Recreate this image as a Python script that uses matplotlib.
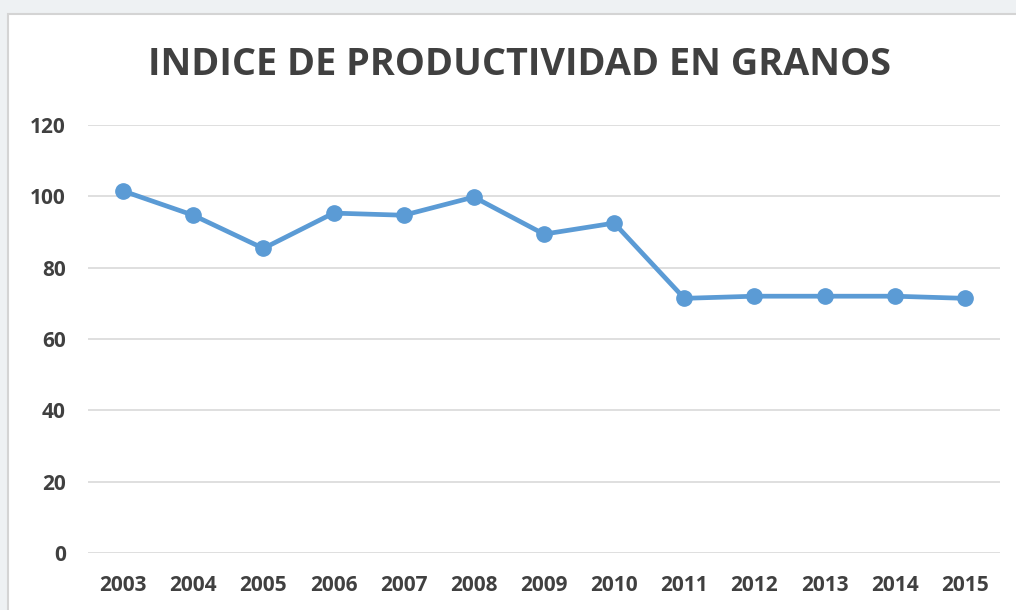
import matplotlib.pyplot as plt
from matplotlib.patches import Rectangle

years = ["2003", "2004", "2005", "2006", "2007", "2008", "2009",
         "2010", "2011", "2012", "2013", "2014", "2015"]
indice = [101.5, 94.7, 85.4, 95.3, 94.7, 99.8, 89.4,
          92.5, 71.4, 72.0, 72.0, 72.0, 71.4]

TXT = "#404040"
BLUE = "#5B9BD5"

plt.rcParams["font.family"] = ["Open Sans", "DejaVu Sans"]

fig = plt.figure(figsize=(10.16, 6.10), dpi=100)
fig.patch.set_facecolor("#eef1f3")
# chart frame (white box with light border, runs off right/bottom edges)
fig.patches.append(Rectangle((8 / 1016, -0.1), 1.1, 1 - 14 / 610 + 0.1,
                             transform=fig.transFigure, facecolor="white",
                             edgecolor="#d4d4d4", linewidth=1.5, zorder=0))

ax = fig.add_axes([88 / 1016, 1 - 553 / 610, 912 / 1016, 428 / 610])
ax.set_zorder(5)
ax.set_facecolor("none")
x = list(range(len(years)))
ax.plot(x, indice, color=BLUE, linewidth=3.4, marker="o", markersize=11,
        solid_capstyle="round", solid_joinstyle="round", zorder=3)

ax.set_xlim(-0.5, len(years) - 0.5)
ax.set_ylim(0, 120)
ax.set_yticks(range(0, 121, 20))
ax.set_xticks(x)
ax.set_xticklabels(years)
ax.grid(axis="y", color="#d9d9d9", linewidth=1.2)
ax.set_axisbelow(True)
for s in ax.spines.values():
    s.set_visible(False)
ax.tick_params(length=0, labelsize=15, labelcolor=TXT)
ax.tick_params(axis="x", pad=16)
ax.tick_params(axis="y", pad=16)
for lab in ax.get_xticklabels() + ax.get_yticklabels():
    lab.set_fontweight("bold")

t = fig.text(519 / 1016, 1 - 65 / 610, "INDICE DE PRODUCTIVIDAD EN GRANOS",
             ha="center", va="center", fontsize=27.3, fontweight="bold",
             color=TXT)
t.set_zorder(6)

fig.savefig("out.png", dpi=100)
